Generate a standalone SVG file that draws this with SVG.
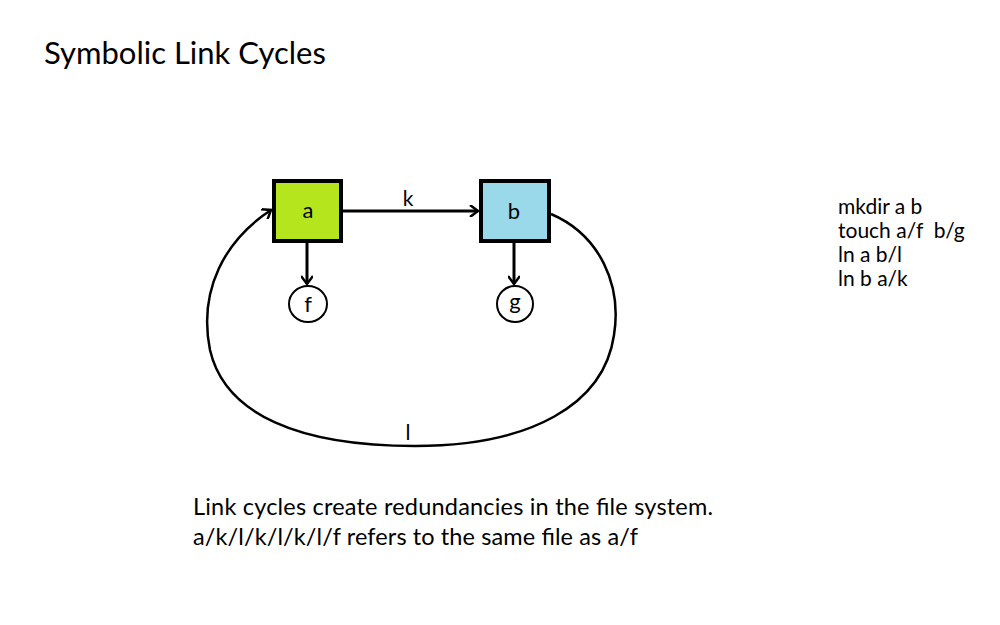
<svg xmlns="http://www.w3.org/2000/svg" width="1000" height="625" viewBox="0 0 1000 625">
<style>
text{font-family:Lato,"Open Sans","Liberation Sans",sans-serif;fill:#000}
.box{stroke:#000;stroke-width:4}
.leaf{fill:#fff;stroke:#000;stroke-width:2}
.edge{fill:none;stroke:#000;stroke-width:3}
.loop{fill:none;stroke:#000;stroke-width:2.5}
</style>
<defs>
<marker id="ah" markerWidth="12" markerHeight="12" refX="9" refY="6" orient="auto" markerUnits="userSpaceOnUse">
<path d="M1,0 L9,6 L1,12" fill="none" stroke="#000" stroke-width="2.5"/>
</marker>
</defs>
<rect width="1000" height="625" fill="#fff"/>
<text x="44" y="64" font-size="31">Symbolic Link Cycles</text>
<g id="connectors">
<line class="edge" x1="343" y1="211" x2="478" y2="211" marker-end="url(#ah)"/>
<line class="edge" x1="307" y1="243" x2="307" y2="284" marker-end="url(#ah)"/>
<line class="edge" x1="514" y1="243" x2="514" y2="284" marker-end="url(#ah)"/>
<path class="loop" d="M551 214 C600 235 622 285 614 335 C604 405 530 446 415 446 C300 446 225 415 210 350 C198 290 225 240 271 210" marker-end="url(#ah)"/>
<text x="408" y="206" font-size="21" text-anchor="middle">k</text>
<text x="408" y="440" font-size="21" text-anchor="middle">l</text>
</g>
<g id="node-a"><rect class="box" x="274" y="181" width="67" height="60" fill="#b5e61d"/><text x="308" y="218" font-size="22" text-anchor="middle">a</text></g>
<g id="node-b"><rect class="box" x="481" y="181" width="68" height="60" fill="#99d9ea"/><text x="514" y="219" font-size="22" text-anchor="middle">b</text></g>
<g id="node-f"><ellipse class="leaf" cx="308" cy="304" rx="19" ry="18"/><text x="308" y="312" font-size="22" text-anchor="middle">f</text></g>
<g id="node-g"><ellipse class="leaf" cx="515" cy="304" rx="18" ry="18"/><text x="515" y="309" font-size="22" text-anchor="middle">g</text></g>
<g id="commands" font-size="21">
<text x="838" y="214">mkdir a b</text>
<text x="838" y="238" xml:space="preserve">touch a/f  b/g</text>
<text x="838" y="262">ln a b/l</text>
<text x="838" y="286">ln b a/k</text>
</g>
<text x="193" y="515" font-size="23.5" textLength="520">Link cycles create redundancies in the file system.</text>
<text x="193" y="545" font-size="23.5" textLength="445">a/k/l/k/l/k/l/f refers to the same file as a/f</text>
</svg>
